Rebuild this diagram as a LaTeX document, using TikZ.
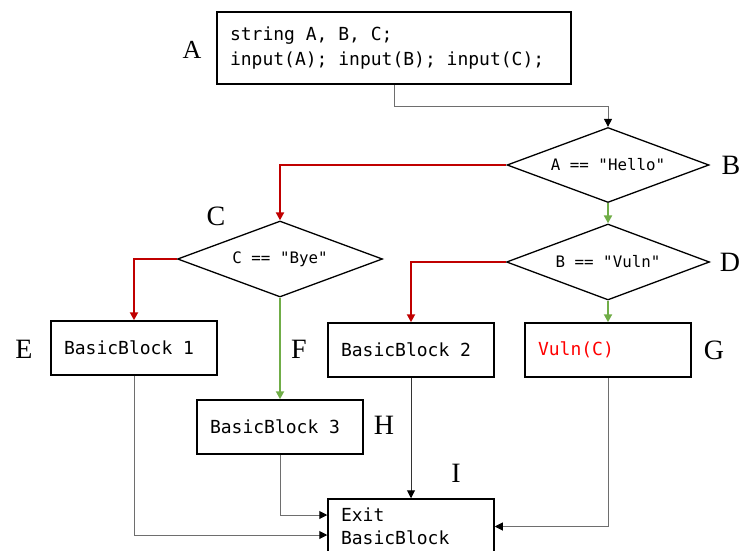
\documentclass[tikz,border=0pt]{standalone}
\usepackage{fontspec}
\setmainfont{Liberation Serif}
\setmonofont{DejaVu Sans Mono}
\usetikzlibrary{shapes.geometric,arrows.meta}
\definecolor{cred}{HTML}{C00000}
\definecolor{cgreen}{HTML}{70AD47}
\definecolor{cgray}{HTML}{6E6E6E}
\definecolor{cdark}{HTML}{333333}
\definecolor{vred}{HTML}{FF0000}
\newcommand{\monosz}[2]{\fontsize{#1}{#2}\selectfont\ttfamily}
\newcommand{\fixspaces}{\spaceskip=0.602em\relax\xspaceskip=0.602em\relax}
\begin{document}
\begin{tikzpicture}[x=1pt,y=-1pt,
  box/.style={draw=black, line width=1.5pt, rectangle, inner xsep=13pt, inner ysep=0pt,
    text width=140pt, minimum height=54pt, align=left,
    font=\monosz{18}{23}, execute at begin node=\fixspaces},
  cond/.style={draw=black, line width=1.3pt, diamond, aspect=2.65, inner sep=0pt,
    minimum width=202pt, minimum height=76pt, font=\monosz{15.8}{18}},
  lab/.style={font=\fontsize{28}{30}\selectfont},
  tip/.style={-{Triangle[length=8pt,width=8pt,color=black]}},
  no/.style={-{Triangle[length=8pt,width=8pt]}, draw=cred, line width=2pt},
  yes/.style={-{Triangle[length=8pt,width=8pt]}, draw=cgreen, line width=2pt},
  flow/.style={tip, draw=cgray, line width=1pt},
  flowdark/.style={tip, draw=cdark, line width=1pt}]
\useasboundingbox (0,0) rectangle (741,551);
\clip (0,0) rectangle (741,551);

\node[box, text width=328pt, minimum height=72pt, font=\monosz{18}{25}] (A) at (394,48)
  {string A, B, C;\\input(A); input(B); input(C);};
\node[cond, minimum height=75pt] (B) at (608,165) {A == "Hello"};
\node[cond, minimum width=205pt] (C) at (280,259) {C == "Bye"};
\node[cond, minimum width=203pt] (D) at (608,262) {B == "Vuln"};
\node[box] (E) at (134,348) {BasicBlock 1};
\node[box] (BB2) at (411,350) {BasicBlock 2};
\node[box, text=vred] (G) at (608,350) {Vuln(C)};
\node[box] (H) at (280,427) {BasicBlock 3};
\node[box, minimum height=55pt] (X) at (411,526.5) {Exit\\BasicBlock};

\node[lab, font=\fontsize{26}{28}\selectfont] (lA) at (192,50) {A};
\node[lab] (lB) at (731,165) {B};
\node[lab] (lC) at (216,216) {C};
\node[lab] (lD) at (730,262) {D};
\node[lab] (lE) at (24,349) {E};
\node[lab] (lF) at (299,349) {F};
\node[lab] (lG) at (714,350) {G};
\node[lab] (lH) at (384,425) {H};
\node[lab] (lI) at (456,473) {I};

\draw[flow] (A.south) -- ++(0,22) -| (B.north);
\draw[no] (B.west) -| (C.north);
\draw[yes] (B.south) -- (D.north);
\draw[no] (C.west) -| (E.north);
\draw[yes] (C.south) -- (H.north);
\draw[no] (D.west) -| (BB2.north);
\draw[yes] (D.south) -- (G.north);
\draw[flow] (E.south) |- ([yshift=-8.5pt]X.west);
\draw[flow] (H.south) |- ([yshift=11.5pt]X.west);
\draw[flowdark] (BB2.south) -- (X.north);
\draw[flow] (G.south) |- (X.east);
\end{tikzpicture}
\end{document}
